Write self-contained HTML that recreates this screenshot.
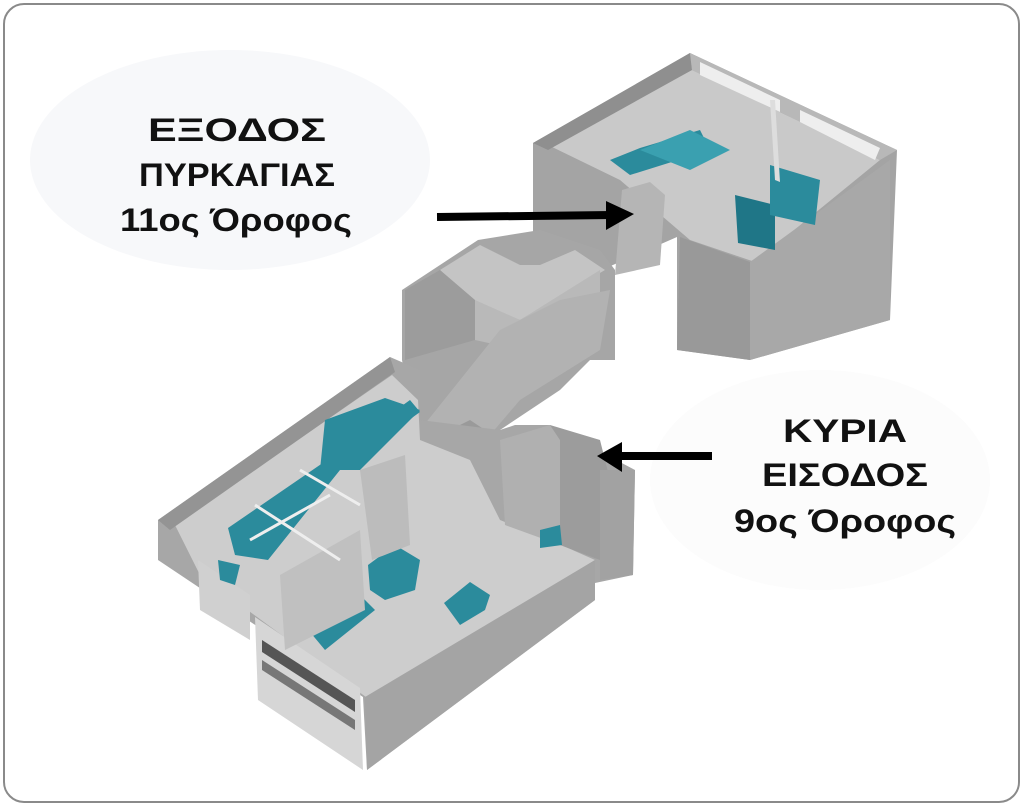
<!DOCTYPE html>
<html><head><meta charset="utf-8"><style>
html,body{margin:0;padding:0;background:#fff;}
svg{display:block}
text{font-family:"Liberation Sans",sans-serif;font-weight:bold;fill:#111;}
</style></head><body>
<svg width="1024" height="807" viewBox="0 0 1024 807" xmlns="http://www.w3.org/2000/svg">
<rect x="4" y="4" width="1015" height="798" rx="20" fill="#fff" stroke="#8a8a8a" stroke-width="2"/>
<ellipse cx="230" cy="160" rx="200" ry="110" fill="#f7f8fa"/>
<ellipse cx="820" cy="480" rx="170" ry="110" fill="#fcfcfc"/>

<!-- TOP BLOCK -->
<polygon points="533,143 690,53 897,150 890,320 750,360 677,350 677,237 533,300" fill="#a4a4a4"/>
<polygon points="548,145 692,70 880,160 755,262 690,240 620,180" fill="#c9c9c9"/>
<polygon points="533,143 690,53 692,70 548,150" fill="#8f8f8f"/>
<polygon points="690,53 897,150 880,160 692,70" fill="#b8b8b8"/>
<polygon points="700,62 780,100 780,112 700,75" fill="#eeeeee"/>
<polygon points="800,110 880,148 875,160 800,122" fill="#eeeeee"/>
<polygon points="750,262 890,160 890,320 750,360" fill="#a8a8a8"/>
<polygon points="680,237 750,262 750,360 677,350" fill="#999"/>
<polygon points="610,160 640,148 700,130 710,150 630,175" fill="#2b8b9c"/>
<polygon points="640,150 690,130 730,150 690,170" fill="#3aa0b0"/>
<polygon points="735,195 775,205 775,250 738,243" fill="#1f7687"/>
<polygon points="770,165 820,180 815,225 770,215" fill="#2b8b9c"/>
<polygon points="622,190 650,182 665,195 660,265 615,275" fill="#b5b5b5"/>
<polygon points="770,100 775,180 780,182 775,100" fill="#ddd"/>

<!-- MIDDLE STAIR BLOCK -->
<polygon points="402,290 478,240 540,230 600,250 615,270 615,360 590,360 560,390 500,430 460,470 420,450 402,360" fill="#a6a6a6"/>
<polygon points="440,270 480,245 520,265 540,265 575,250 605,270 520,320 470,300" fill="#c4c4c4"/>
<polygon points="405,290 440,270 475,300 475,340 405,360" fill="#9c9c9c"/>
<polygon points="475,300 520,320 600,270 600,300 520,350 475,340" fill="#b9b9b9"/>
<polygon points="420,430 500,330 560,300 610,290 600,350 520,400 460,470" fill="#b2b2b2"/>
<polygon points="430,440 470,420 500,440 500,510 440,500" fill="#9a9a9a"/>

<!-- LOWER BLOCK -->
<polygon points="158,520 390,357 420,370 420,420 500,430 515,425 550,425 635,470 633,575 595,583 595,600 367,770 363,697 158,560" fill="#a7a7a7"/>
<polygon points="175,525 392,375 418,400 420,440 470,460 500,520 550,540 595,560 370,700 200,575" fill="#cdcdcd"/>
<polygon points="158,520 390,357 395,372 170,530" fill="#949494"/>
<polygon points="500,440 550,425 560,440 560,545 505,525" fill="#b0b0b0"/>
<polygon points="550,425 600,440 610,480 600,560 560,545 560,440" fill="#9c9c9c"/>
<polygon points="600,470 635,470 633,575 600,580" fill="#a2a2a2"/>
<polygon points="365,697 595,560 595,600 367,770" fill="#a4a4a4"/>
<polygon points="255,617 360,688 363,770 258,700" fill="#d6d6d6"/>
<polygon points="198,560 250,595 250,640 200,610" fill="#d0d0d0"/>
<polygon points="262,640 355,700 355,712 262,652" fill="#555"/>
<polygon points="262,660 355,720 355,730 262,670" fill="#777"/>
<!-- furniture -->
<polygon points="228,528 330,458 410,400 420,412 340,470 268,560 235,555" fill="#2b8b9c"/>
<polygon points="325,420 385,398 420,410 360,470 320,470" fill="#2b8b9c"/>
<polygon points="300,620 350,585 375,610 325,650" fill="#2b8b9c"/>
<polygon points="368,565 395,545 420,560 415,590 385,600 370,590" fill="#2b8b9c"/>
<polygon points="444,603 470,582 490,595 485,610 460,625" fill="#2b8b9c"/>
<polygon points="540,530 560,525 562,545 540,548" fill="#2b8b9c"/>
<polygon points="218,560 240,565 235,585 220,580" fill="#2b8b9c"/>
<!-- partitions -->
<polygon points="360,470 405,455 410,545 372,560" fill="#bcbcbc"/>
<polygon points="280,575 360,530 365,610 285,650" fill="#c0c0c0"/>
<line x1="255" y1="505" x2="340" y2="560" stroke="#eee" stroke-width="3"/>
<line x1="300" y1="470" x2="360" y2="505" stroke="#eee" stroke-width="3"/>
<line x1="250" y1="540" x2="330" y2="495" stroke="#eee" stroke-width="3"/>

<!-- ARROWS -->
<line x1="437" y1="217" x2="612" y2="215" stroke="#000" stroke-width="8"/>
<polygon points="606,201 634,214 606,230" fill="#000"/>
<line x1="712" y1="456" x2="618" y2="456" stroke="#000" stroke-width="8"/>
<polygon points="622,442 597,456 622,472" fill="#000"/>

<!-- TEXT -->
<g font-size="32" text-anchor="middle">
<text x="237" y="141" textLength="178" lengthAdjust="spacingAndGlyphs">ΕΞΟΔΟΣ</text>
<text x="237" y="186" textLength="196" lengthAdjust="spacingAndGlyphs">ΠΥΡΚΑΓΙΑΣ</text>
<text x="236" y="231" textLength="232" lengthAdjust="spacingAndGlyphs">11ος Όροφος</text>
<text x="845" y="442" textLength="124" lengthAdjust="spacingAndGlyphs">ΚΥΡΙΑ</text>
<text x="845" y="486" textLength="166" lengthAdjust="spacingAndGlyphs">ΕΙΣΟΔΟΣ</text>
<text x="845" y="532" textLength="222" lengthAdjust="spacingAndGlyphs">9ος Όροφος</text>
</g>
</svg>
</body></html>
